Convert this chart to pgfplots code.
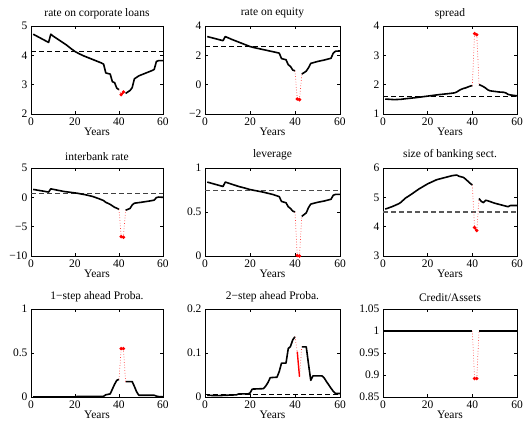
\documentclass[border=0pt]{standalone}
\usepackage{fontspec}
\setmainfont{Liberation Serif}
\usepackage{pgfplots}
\pgfplotsset{compat=1.18}
\pgfplotsset{
  panel/.style={
    scale only axis, height=88pt, anchor=south west,
    xmin=0, xmax=60, xtick={0,20,40,60},
    xlabel={Years},
    tick align=inside, major tick length=3pt,
    axis line style={line width=0.6pt},
    every tick/.style={black, line width=0.5pt},
    tick label style={font=\fontsize{11.5}{12}\selectfont},
    /pgf/number format/assume math mode=true,
    label style={font=\fontsize{11.5}{12}\selectfont},
    title style={font=\fontsize{11.5}{12}\selectfont, yshift=-2pt},
    xlabel style={yshift=4pt},
    clip=false,
  },
  blk/.style={black, line width=1.6pt, line join=round},
  rd/.style={red, line width=1.4pt, mark=*, mark size=0.9pt},
  rdot/.style={red!75, dotted, line width=0.7pt},
  dsh/.style={black, line width=0.8pt, dash pattern=on 5pt off 3pt},
}
\begin{document}
\begin{tikzpicture}
\useasboundingbox (0,0) rectangle (524pt,426pt);
% ---------- row 1 ----------
\begin{axis}[panel, width=132pt, at={(31pt,312pt)}, title={rate on corporate loans},
  ymin=2, ymax=5, ytick={2,3,4,5}]
\addplot[dsh] coordinates {(0,4.12) (60,4.12)};
\addplot[blk] coordinates {(1,4.72) (8,4.44) (9,4.72) (10,4.66) (12,4.56) (14,4.46) (16,4.36) (18,4.24) (20,4.13) (22,4.05) (24,3.98) (26,3.92) (28,3.86) (30,3.80) (32,3.74) (33,3.70) (34,3.40) (35,3.38) (36,3.36) (37,3.10) (38,3.07) (39,2.88) (40,2.83)};
\addplot[blk] coordinates {(43,2.70) (44,2.75) (45,2.80) (46,2.90) (47,3.20) (48,3.25) (49,3.30) (51,3.36) (53,3.42) (55,3.48) (56,3.52) (57,3.79) (58,3.82) (60,3.82)};
\addplot[rdot] coordinates {(40,2.83) (41,2.66)};
\addplot[rdot] coordinates {(42,2.75) (43,2.70)};
\addplot[rd] coordinates {(41,2.66) (42,2.75)};
\end{axis}
\begin{axis}[panel, width=135pt, at={(205pt,312pt)}, title={rate on equity},
  ymin=-2, ymax=4, ytick={-2,0,2,4}, yticklabels={−2,0,2,4}]
\addplot[dsh] coordinates {(0,2.58) (60,2.58)};
\addplot[blk] coordinates {(1,3.28) (8,3.00) (9,3.28) (12,3.08) (15,2.90) (18,2.72) (20,2.60) (22,2.52) (25,2.42) (28,2.32) (31,2.22) (33,2.15) (34,1.78) (36,1.70) (37,1.36) (38,1.24) (39,1.00) (40,0.94)};
\addplot[blk] coordinates {(43,0.72) (45,0.92) (46,1.15) (47,1.45) (50,1.58) (53,1.68) (56,1.80) (57,2.15) (58,2.28) (60,2.30)};
\addplot[rdot] coordinates {(40,0.94) (41,-0.98)};
\addplot[rdot] coordinates {(42,-1.02) (43,0.72)};
\addplot[rd] coordinates {(41,-0.98) (42,-1.02)};
\end{axis}
\begin{axis}[panel, width=134pt, at={(383pt,312pt)}, title={spread},
  ymin=1, ymax=4, ytick={1,2,3,4}]
\addplot[dsh] coordinates {(0,1.60) (60,1.60)};
\addplot[blk] coordinates {(1,1.51) (5,1.49) (8,1.50) (10,1.52) (15,1.56) (20,1.61) (25,1.66) (30,1.70) (32,1.72) (33,1.75) (34,1.80) (35,1.84) (36,1.87) (37,1.89) (38,1.92) (39,1.95) (40,1.97)};
\addplot[blk] coordinates {(43,2.00) (44,1.97) (45,1.93) (46,1.88) (47,1.82) (48,1.79) (50,1.77) (52,1.75) (54,1.74) (55,1.72) (56,1.67) (57,1.65) (58,1.64) (60,1.62)};
\addplot[rdot] coordinates {(40,1.97) (41,3.74)};
\addplot[rdot] coordinates {(42,3.70) (43,2.00)};
\addplot[rd] coordinates {(41,3.74) (42,3.70)};
\end{axis}
% ---------- row 2 ----------
\begin{axis}[panel, width=132pt, at={(31pt,170pt)}, title={interbank rate},
  ymin=-10, ymax=5, ytick={-10,-5,0,5}, yticklabels={−10,−5,0,5}]
\addplot[dsh, black!75] coordinates {(0,0.6) (60,0.6)};
\addplot[blk] coordinates {(1,1.35) (8,0.90) (9,1.45) (12,1.22) (15,1.00) (18,0.85) (21,0.70) (25,0.42) (28,0.15) (31,-0.25) (33,-0.55) (34,-0.85) (36,-1.20) (37,-1.45) (38,-1.70) (39,-1.85) (40,-2.05)};
\addplot[blk] coordinates {(43,-2.20) (44,-2.05) (45,-1.90) (46,-1.30) (47,-1.00) (50,-0.85) (54,-0.62) (56,-0.48) (57,-0.05) (58,0.05) (60,0.00)};
\addplot[rdot] coordinates {(40,-2.05) (41,-6.7)};
\addplot[rdot] coordinates {(42,-6.8) (43,-2.20)};
\addplot[rd] coordinates {(41,-6.7) (42,-6.8)};
\end{axis}
\begin{axis}[panel, width=135pt, at={(205pt,170pt)}, title={leverage},
  ymin=0, ymax=1, ytick={0,0.5,1}]
\addplot[dsh, black!70, line width=1pt] coordinates {(0,0.742) (60,0.742)};
\addplot[blk] coordinates {(1,0.84) (8,0.79) (9,0.84) (12,0.815) (15,0.79) (18,0.77) (20,0.755) (23,0.74) (26,0.725) (30,0.70) (33,0.675) (34,0.62) (36,0.605) (37,0.56) (38,0.54) (39,0.51) (40,0.50)};
\addplot[blk] coordinates {(43,0.45) (45,0.49) (46,0.55) (47,0.59) (50,0.61) (53,0.625) (56,0.645) (57,0.69) (58,0.70) (60,0.70)};
\addplot[rdot] coordinates {(40,0.50) (41,0.005)};
\addplot[rdot] coordinates {(42,0.0) (43,0.45)};
\addplot[rd] coordinates {(41,0.005) (42,0.0)};
\end{axis}
\begin{axis}[panel, width=134pt, at={(383pt,170pt)}, title={size of banking sect.},
  ymin=3, ymax=6, ytick={3,4,5,6}]
\addplot[dsh, black!65, line width=1.2pt] coordinates {(0,4.5) (60,4.5)};
\addplot[blk] coordinates {(1,4.60) (4,4.68) (7,4.78) (8,4.83) (10,4.97) (13,5.12) (16,5.28) (20,5.46) (24,5.60) (28,5.68) (31,5.74) (33,5.76) (34,5.72) (36,5.68) (37,5.62) (38,5.55) (39,5.48) (40,5.42)};
\addplot[blk] coordinates {(43,4.96) (44,4.86) (45,4.82) (46,4.90) (47,4.88) (50,4.80) (53,4.74) (55,4.70) (56,4.68) (57,4.72) (60,4.72)};
\addplot[rdot] coordinates {(40,5.42) (41,3.97)};
\addplot[rdot] coordinates {(42,3.87) (43,4.96)};
\addplot[rd] coordinates {(41,3.97) (42,3.87)};
\end{axis}
% ---------- row 3 ----------
\begin{axis}[panel, width=132pt, at={(31pt,29pt)}, title={1−step ahead Proba.},
  ymin=0, ymax=1, ytick={0,0.5,1}]
\addplot[dsh] coordinates {(0,0.001) (60,0.001)};
\addplot[blk] coordinates {(1,0.002) (20,0.002) (21,0.006) (33,0.008) (34,0.025) (35,0.030) (36,0.035) (37,0.090) (38,0.145) (39,0.190) (40,0.200)};
\addplot[blk] coordinates {(43,0.175) (46,0.175) (47,0.120) (48,0.060) (49,0.020) (56,0.020) (57,0.010) (58,0.005) (60,0.002)};
\addplot[rdot] coordinates {(40,0.200) (41,0.55)};
\addplot[rdot] coordinates {(42,0.55) (43,0.175)};
\addplot[rd] coordinates {(41,0.55) (42,0.55)};
\end{axis}
\begin{axis}[panel, width=135pt, at={(205pt,29pt)}, title={2−step ahead Proba.},
  ymin=0, ymax=0.2, ytick={0,0.1,0.2}]
\addplot[dsh] coordinates {(0,0.005) (60,0.005)};
\addplot[blk] coordinates {(1,0.004) (5,0.003) (10,0.004) (14,0.005) (15,0.007) (19,0.007) (20,0.009) (21,0.018) (26,0.019) (27,0.025) (28,0.033) (29,0.044) (32,0.045) (33,0.058) (34,0.077) (36,0.077) (37,0.110) (38,0.115) (39,0.130) (40,0.137)};
\addplot[blk] coordinates {(43,0.114) (45,0.114) (46,0.075) (47,0.038) (48,0.048) (52,0.048) (53,0.043) (54,0.035) (56,0.020) (57,0.013) (58,0.008) (60,0.008)};
\addplot[rdot] coordinates {(40,0.137) (41,0.103)};
\addplot[rdot] coordinates {(42,0.046) (43,0.114)};
\addplot[rd, mark=none] coordinates {(41,0.103) (42,0.046)};
\end{axis}
\begin{axis}[panel, width=134pt, at={(383pt,29pt)}, title={Credit/Assets},
  ymin=0.85, ymax=1.05, ytick={0.85,0.9,0.95,1,1.05}]
\addplot[blk, line width=2.8pt] coordinates {(0,1) (40,1)};
\addplot[blk, line width=2.8pt] coordinates {(43,1) (60,1)};
\addplot[rdot] coordinates {(40,1) (41,0.892)};
\addplot[rdot] coordinates {(42,0.892) (43,1)};
\addplot[rd] coordinates {(41,0.892) (42,0.892)};
\end{axis}
\end{tikzpicture}
\end{document}
